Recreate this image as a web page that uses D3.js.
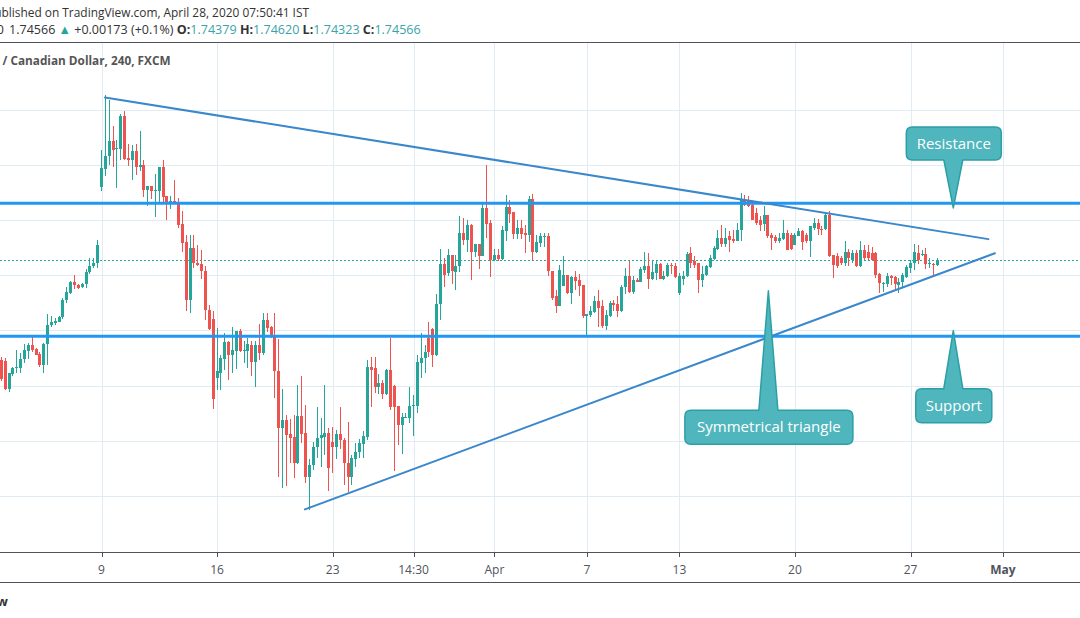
<!DOCTYPE html>
<html><head><meta charset="utf-8">
<script src="https://cdn.jsdelivr.net/npm/d3@7"></script>
<style>html,body{margin:0;padding:0;background:#fff;overflow:hidden}svg{display:block}</style>
</head><body><svg id="c" width="1080" height="618"></svg>
<script>
// ---------- DATA (GBP/CAD, 240 min, FXCM) ----------
const firstBar = -26; // bar index of the first visible candle (bar 0 = Mar 9 00:00)
const opens = [
1.7093,1.7090,1.6988,1.7043,1.7062,1.7065,1.7096,1.7127,1.7147,1.7132,
1.7115,1.7075,1.7149,1.7220,1.7228,1.7232,1.7248,1.7311,1.7335,1.7376,
1.7365,1.7357,1.7367,1.7410,1.7432,1.7445,
1.7719,1.7785,1.7831,1.7888,1.7857,1.7859,1.7979,1.7826,1.7819,1.7852,
1.7791,1.7801,1.7710,1.7725,1.7708,1.7707,1.7791,1.7686,1.7662,1.7668,
1.7664,1.7587,1.7522,1.7311,1.7500,1.7445,1.7442,1.7416,1.7275,1.7242,
1.7028,1.7047,1.7097,1.7159,1.7109,1.7127,1.7198,1.7128,1.7127,1.7148,
1.7087,1.7148,1.7118,1.7238,1.7213,1.7184,1.7053,1.6847,1.6875,1.6825,
1.6815,1.6720,1.6890,1.6828,1.6670,1.6712,1.6778,1.6809,1.6815,1.6829,
1.6797,1.6778,1.6825,1.6803,1.6720,1.6670,1.6734,1.6758,1.6788,1.6815,
1.7069,1.7063,1.6996,1.7011,1.6970,1.7057,1.6999,1.6926,1.6857,1.6882,
1.6882,1.6926,1.6926,1.7083,1.7100,1.7174,1.7206,1.7111,1.7294,1.7442,
1.7408,1.7474,1.7412,1.7432,1.7555,1.7529,1.7583,1.7486,1.7514,1.7471,
1.7644,1.7589,1.7454,1.7474,1.7459,1.7559,1.7648,1.7628,1.7551,1.7571,
1.7555,1.7547,1.7678,1.7483,1.7517,1.7541,1.7543,1.7417,1.7323,1.7290,
1.7362,1.7402,1.7335,1.7392,1.7384,1.7365,1.7254,1.7257,1.7265,1.7307,
1.7287,1.7217,1.7254,1.7299,1.7296,1.7269,1.7357,1.7398,1.7338,1.7384,
1.7377,1.7420,1.7432,1.7387,1.7408,1.7442,1.7387,1.7396,1.7438,1.7432,
1.7335,1.7387,1.7398,1.7481,1.7450,1.7444,1.7381,1.7402,1.7430,1.7459,
1.7496,1.7535,1.7514,1.7541,1.7531,1.7526,1.7565,1.7674,1.7671,1.7656,
1.7626,1.7601,1.7587,1.7620,1.7547,1.7539,1.7523,1.7532,1.7553,1.7547,
1.7511,1.7544,1.7559,1.7547,1.7523,1.7571,1.7589,1.7568,1.7568,1.7620,
1.7474,1.7468,1.7462,1.7444,1.7483,1.7456,1.7481,1.7434,1.7490,1.7486,
1.7481,1.7481,1.7405,1.7369,1.7369,1.7398,1.7393,1.7365,1.7377,1.7393,
1.7426,1.7444,1.7481,1.7474,1.7478,1.7442,1.7442,1.74379];
const highs = [
1.7104,1.7100,1.7047,1.7069,1.7130,1.7118,1.7151,1.7156,1.7176,1.7137,
1.7120,1.7156,1.7260,1.7253,1.7245,1.7253,1.7317,1.7359,1.7380,1.7402,
1.7369,1.7372,1.7424,1.7462,1.7462,1.7529,
1.7853,1.8055,1.8037,1.7943,1.7892,1.7983,1.7997,1.7877,1.7874,1.7877,
1.7924,1.7819,1.7725,1.7725,1.7768,1.7791,1.7819,1.7686,1.7686,1.7744,
1.7681,1.7634,1.7547,1.7547,1.7547,1.7511,1.7493,1.7432,1.7293,1.7271,
1.7209,1.7111,1.7191,1.7160,1.7213,1.7198,1.7205,1.7160,1.7173,1.7160,
1.7160,1.7224,1.7264,1.7264,1.7217,1.7264,1.7169,1.6988,1.6894,1.6879,
1.6894,1.7002,1.7035,1.6930,1.6734,1.6797,1.6923,1.6883,1.7002,1.6846,
1.6851,1.6839,1.6924,1.6809,1.6869,1.6748,1.6792,1.6806,1.6836,1.7093,
1.7104,1.7104,1.7042,1.7021,1.7061,1.7174,1.7002,1.6926,1.6902,1.6902,
1.6995,1.6966,1.7111,1.7191,1.7148,1.7231,1.7209,1.7333,1.7496,1.7463,
1.7496,1.7474,1.7474,1.7616,1.7609,1.7599,1.7587,1.7514,1.7514,1.7663,
1.7801,1.7601,1.7496,1.7496,1.7577,1.7692,1.7674,1.7628,1.7601,1.7601,
1.7583,1.7686,1.7696,1.7547,1.7555,1.7553,1.7553,1.7417,1.7347,1.7438,
1.7471,1.7402,1.7396,1.7414,1.7405,1.7365,1.7260,1.7289,1.7326,1.7345,
1.7311,1.7275,1.7307,1.7311,1.7323,1.7365,1.7426,1.7450,1.7398,1.7390,
1.7430,1.7484,1.7481,1.7450,1.7454,1.7444,1.7414,1.7446,1.7444,1.7444,
1.7409,1.7414,1.7486,1.7503,1.7471,1.7444,1.7434,1.7438,1.7474,1.7507,
1.7565,1.7583,1.7571,1.7559,1.7565,1.7589,1.7698,1.7692,1.7686,1.7668,
1.7644,1.7616,1.7652,1.7620,1.7553,1.7547,1.7553,1.7599,1.7565,1.7555,
1.7553,1.7571,1.7565,1.7553,1.7577,1.7608,1.7604,1.7577,1.7628,1.7632,
1.7474,1.7481,1.7468,1.7523,1.7495,1.7493,1.7490,1.7523,1.7511,1.7511,
1.7504,1.7483,1.7408,1.7377,1.7408,1.7402,1.7398,1.7390,1.7408,1.7438,
1.7456,1.7514,1.7511,1.7493,1.7499,1.7462,1.7444,1.74620];
const lows = [
1.7017,1.6984,1.6975,1.7033,1.7047,1.7045,1.7083,1.7098,1.7123,1.7110,
1.7069,1.7047,1.7075,1.7214,1.7218,1.7230,1.7242,1.7301,1.7333,1.7350,
1.7350,1.7353,1.7355,1.7406,1.7428,1.7428,
1.7704,1.7759,1.7801,1.7791,1.7715,1.7819,1.7819,1.7797,1.7747,1.7765,
1.7777,1.7685,1.7650,1.7678,1.7612,1.7663,1.7663,1.7601,1.7641,1.7659,
1.7572,1.7485,1.7269,1.7264,1.7427,1.7432,1.7387,1.7238,1.7202,1.6916,
1.6984,1.6984,1.7057,1.7021,1.7047,1.7061,1.7121,1.7082,1.7064,1.7033,
1.6996,1.7093,1.7111,1.7195,1.7173,1.6955,1.6670,1.6629,1.6637,1.6719,
1.6665,1.6716,1.6792,1.6648,1.6549,1.6694,1.6737,1.6706,1.6748,1.6619,
1.6683,1.6734,1.6770,1.6639,1.6615,1.6639,1.6706,1.6736,1.6736,1.6803,
1.6923,1.6973,1.6970,1.6952,1.6966,1.6912,1.6691,1.6785,1.6752,1.6882,
1.6866,1.6817,1.6901,1.7028,1.7046,1.7103,1.7069,1.7108,1.7236,1.7359,
1.7398,1.7369,1.7347,1.7412,1.7511,1.7486,1.7384,1.7466,1.7424,1.7468,
1.7535,1.7393,1.7450,1.7450,1.7454,1.7526,1.7589,1.7531,1.7531,1.7531,
1.7481,1.7519,1.7450,1.7481,1.7504,1.7504,1.7398,1.7311,1.7263,1.7290,
1.7362,1.7333,1.7296,1.7347,1.7323,1.7246,1.7178,1.7250,1.7263,1.7214,
1.7208,1.7202,1.7250,1.7269,1.7250,1.7265,1.7333,1.7335,1.7333,1.7374,
1.7374,1.7408,1.7350,1.7384,1.7384,1.7386,1.7384,1.7393,1.7405,1.7390,
1.7329,1.7365,1.7395,1.7427,1.7426,1.7335,1.7357,1.7396,1.7427,1.7456,
1.7493,1.7504,1.7504,1.7486,1.7517,1.7523,1.7523,1.7650,1.7648,1.7599,
1.7583,1.7559,1.7559,1.7535,1.7490,1.7517,1.7517,1.7529,1.7490,1.7493,
1.7508,1.7541,1.7490,1.7517,1.7466,1.7565,1.7547,1.7547,1.7565,1.7466,
1.7390,1.7426,1.7438,1.7434,1.7434,1.7444,1.7430,1.7430,1.7456,1.7456,
1.7450,1.7390,1.7335,1.7341,1.7359,1.7365,1.7347,1.7335,1.7353,1.7390,
1.7408,1.7420,1.7442,1.7468,1.7422,1.7426,1.7398,1.74323];
const closes = [
1.7024,1.6988,1.7046,1.7063,1.7068,1.7096,1.7130,1.7147,1.7130,1.7112,
1.7075,1.7151,1.7220,1.7230,1.7235,1.7249,1.7311,1.7338,1.7376,1.7363,
1.7355,1.7369,1.7412,1.7432,1.7445,1.7511,
1.7789,1.7834,1.7888,1.7856,1.7863,1.7979,1.7823,1.7819,1.7852,1.7791,
1.7801,1.7710,1.7725,1.7707,1.7710,1.7791,1.7682,1.7659,1.7668,1.7659,
1.7583,1.7518,1.7311,1.7500,1.7444,1.7438,1.7414,1.7275,1.7206,1.6953,
1.7051,1.7100,1.7159,1.7109,1.7130,1.7198,1.7126,1.7130,1.7151,1.7087,
1.7148,1.7119,1.7238,1.7209,1.7180,1.7051,1.6847,1.6875,1.6821,1.6811,
1.6720,1.6890,1.6825,1.6670,1.6712,1.6778,1.6811,1.6821,1.6829,1.6700,
1.6778,1.6825,1.6803,1.6718,1.6670,1.6736,1.6760,1.6791,1.6817,1.7069,
1.7057,1.6996,1.7009,1.6970,1.7057,1.6924,1.6924,1.6857,1.6885,1.6885,
1.6926,1.6930,1.7087,1.7100,1.7122,1.7121,1.7111,1.7296,1.7442,1.7402,
1.7474,1.7414,1.7434,1.7555,1.7529,1.7583,1.7486,1.7514,1.7471,1.7644,
1.7587,1.7454,1.7474,1.7459,1.7563,1.7648,1.7623,1.7551,1.7571,1.7551,
1.7547,1.7678,1.7483,1.7519,1.7543,1.7543,1.7414,1.7317,1.7290,1.7420,
1.7402,1.7335,1.7392,1.7380,1.7362,1.7254,1.7260,1.7269,1.7307,1.7283,
1.7217,1.7257,1.7299,1.7293,1.7269,1.7357,1.7398,1.7338,1.7384,1.7376,
1.7424,1.7432,1.7387,1.7410,1.7442,1.7387,1.7398,1.7438,1.7432,1.7392,
1.7398,1.7396,1.7478,1.7446,1.7438,1.7381,1.7405,1.7432,1.7462,1.7499,
1.7535,1.7514,1.7535,1.7529,1.7523,1.7565,1.7674,1.7656,1.7652,1.7601,
1.7589,1.7583,1.7620,1.7541,1.7535,1.7523,1.7535,1.7555,1.7493,1.7495,
1.7547,1.7559,1.7519,1.7523,1.7577,1.7589,1.7568,1.7565,1.7620,1.7468,
1.7438,1.7434,1.7444,1.7483,1.7462,1.7481,1.7434,1.7490,1.7462,1.7462,
1.7456,1.7402,1.7372,1.7372,1.7398,1.7390,1.7369,1.7377,1.7402,1.7430,
1.7446,1.7483,1.7456,1.7478,1.7442,1.7444,1.7438,1.74566];

const tickBars   = [0, 30, 60, 81, 102, 126, 150, 180, 210, 234];
const tickLabels = ["9", "16", "23", "14:30", "Apr", "7", "13", "20", "27", "May"];
const tickBold   = [false,false,false,false,false,false,false,false,false,true];
const priceGrid  = [1.66, 1.68, 1.70, 1.72, 1.74, 1.76, 1.78, 1.80];

const lastPrice = 1.74566;
const resistanceLevel = 1.7661;
const supportLevel = 1.7179;
const upperTrendBars = [0.91, 230.2], upperTrendPrices = [1.8045, 1.7531];
const lowerTrendBars = [52.8, 231.9], lowerTrendPrices = [1.6551, 1.7480];

const calloutTexts  = ["Resistance", "Support", "Symmetrical triangle"];
const calloutBars   = [221.1, 221.1, 173.1];
const calloutPrices = [1.7644, 1.7199, 1.7344];

const headerLine1 = "Published on TradingView.com, April 28, 2020 07:50:41 IST";
const symbolShort = "GBPCAD, 240";
const chartTitleStart = "British Pound ";
const chartTitleEnd = "/ Canadian Dollar, 240, FXCM";
const ohlcLabels = ["O:", "H:", "L:", "C:"];
const ohlcValues = ["1.74379", "1.74620", "1.74323", "1.74566"];
const changeText = "+0.00173 (+0.1%)";

// ---------- LAYOUT ----------
const W = 1080, H = 618;
const plotTop = 43, plotBottom = 552;
const UP = "#26a69a", DOWN = "#ef5350", GRID = "#e1ebf2";
const svg = d3.select("#c");

const x = d3.scaleLinear().domain([0, 234]).range([101.5, 1003]);
const y = d3.scaleLinear().domain([1.64, 1.84]).range([551, -0.5]);

svg.append("defs").append("clipPath").attr("id", "plot")
  .append("rect").attr("x", 0).attr("y", plotTop).attr("width", W).attr("height", plotBottom - plotTop);

const half = v => Math.round(v) + 0.5;

// grid
const grid = svg.append("g").attr("clip-path", "url(#plot)");
grid.selectAll("line.h").data(priceGrid).join("line")
  .attr("x1", 0).attr("x2", W)
  .attr("y1", d => half(y(d))).attr("y2", d => half(y(d)))
  .attr("stroke", GRID).attr("stroke-width", 1);
grid.selectAll("line.v").data(tickBars).join("line")
  .attr("y1", plotTop).attr("y2", plotBottom)
  .attr("x1", d => half(x(d))).attr("x2", d => half(x(d)))
  .attr("stroke", GRID).attr("stroke-width", 1);

const plot = svg.append("g").attr("clip-path", "url(#plot)");

// last price dotted line
plot.append("line").attr("x1", 0).attr("x2", W)
  .attr("y1", half(y(lastPrice))).attr("y2", half(y(lastPrice)))
  .attr("stroke", UP).attr("stroke-width", 1).attr("stroke-dasharray", "2 2");

// candles
const bars = opens.map((o, i) => ({bar: firstBar + i, o, h: highs[i], l: lows[i], c: closes[i]}));
const cg = plot.append("g").attr("shape-rendering", "crispEdges");
cg.selectAll("line.wick").data(bars).join("line")
  .attr("x1", d => Math.floor(x(d.bar)) + 0.5).attr("x2", d => Math.floor(x(d.bar)) + 0.5)
  .attr("y1", d => y(d.h)).attr("y2", d => y(d.l))
  .attr("stroke", d => d.c >= d.o ? UP : DOWN).attr("stroke-width", 1);
cg.selectAll("rect.body").data(bars).join("rect")
  .attr("x", d => Math.floor(x(d.bar)) - 1).attr("width", 3)
  .attr("y", d => y(Math.max(d.o, d.c)))
  .attr("height", d => Math.max(1, Math.abs(y(d.o) - y(d.c))))
  .attr("fill", d => d.c >= d.o ? UP : DOWN);

// horizontal support / resistance
plot.selectAll("line.sr").data([resistanceLevel, supportLevel]).join("line")
  .attr("x1", 0).attr("x2", W).attr("y1", d => y(d)).attr("y2", d => y(d))
  .attr("stroke", "#2196f3").attr("stroke-width", 3);

// trend lines
const trend = [[upperTrendBars, upperTrendPrices], [lowerTrendBars, lowerTrendPrices]];
plot.selectAll("line.tr").data(trend).join("line")
  .attr("x1", d => x(d[0][0])).attr("y1", d => y(d[1][0]))
  .attr("x2", d => x(d[0][1])).attr("y2", d => y(d[1][1]))
  .attr("stroke", "#3a87cb").attr("stroke-width", 2).attr("stroke-linecap", "round");

// callouts
const calloutLayout = [
  {dx: 0.5, dy: -64.5, w: 95, h: 33, side: "bottom"},
  {dx: 0.5, dy: 75, w: 76, h: 34, side: "top"},
  {dx: 0.5, dy: 136.5, w: 168, h: 34, side: "top"}
];
function calloutPath(x0, y0, x1, y1, r, side, bx, hw, tx, ty) {
  let p = `M${x0 + r},${y0}`;
  if (side === "top") p += `L${bx - hw},${y0}L${tx},${ty}L${bx + hw},${y0}`;
  p += `L${x1 - r},${y0}Q${x1},${y0} ${x1},${y0 + r}L${x1},${y1 - r}Q${x1},${y1} ${x1 - r},${y1}`;
  if (side === "bottom") p += `L${bx + hw},${y1}L${tx},${ty}L${bx - hw},${y1}`;
  p += `L${x0 + r},${y1}Q${x0},${y1} ${x0},${y1 - r}L${x0},${y0 + r}Q${x0},${y0} ${x0 + r},${y0}Z`;
  return p;
}
const cl = svg.append("g");
calloutTexts.forEach((t, i) => {
  const L = calloutLayout[i];
  const tx = x(calloutBars[i]), ty = y(calloutPrices[i]);
  const cx = tx + L.dx, cy = ty + L.dy;
  const x0 = cx - L.w / 2, x1 = cx + L.w / 2, y0 = cy - L.h / 2, y1 = cy + L.h / 2;
  cl.append("path").attr("d", calloutPath(x0, y0, x1, y1, 6, L.side, tx, 9.5, tx, ty))
    .attr("fill", "#4fb6bd").attr("stroke", "#2b9fa7").attr("stroke-width", 1.5)
    .attr("stroke-linejoin", "round");
  cl.append("text").attr("x", cx).attr("y", cy + 5.3).attr("text-anchor", "middle")
    .attr("font-family", "'Open Sans', sans-serif").attr("font-size", 15)
    .attr("fill", "#ffffff").text(t);
});

// x axis
const ax = svg.append("g");
ax.append("line").attr("x1", 0).attr("x2", W).attr("y1", 552.5).attr("y2", 552.5).attr("stroke", "#50535e");
ax.append("line").attr("x1", 0).attr("x2", W).attr("y1", 582.5).attr("y2", 582.5).attr("stroke", "#50535e");
ax.selectAll("line.t").data(tickBars).join("line")
  .attr("x1", d => half(x(d))).attr("x2", d => half(x(d)))
  .attr("y1", 552.5).attr("y2", 557).attr("stroke", "#50535e");
ax.selectAll("text").data(tickBars).join("text")
  .attr("x", d => x(d)).attr("y", 573.5).attr("text-anchor", "middle")
  .attr("font-family", "'Open Sans', sans-serif").attr("font-size", 12)
  .attr("font-weight", (d, i) => tickBold[i] ? "bold" : "normal")
  .attr("fill", "#50535e").text((d, i) => tickLabels[i]);

// header
svg.append("line").attr("x1", 0).attr("x2", W).attr("y1", 42.5).attr("y2", 42.5).attr("stroke", "#50535e");
const hf = "'Open Sans', sans-serif";
svg.append("text").attr("x", -13).attr("y", 16.7).attr("font-family", hf).attr("font-size", 13)
  .attr("fill", "#333").attr("textLength", 322).attr("lengthAdjust", "spacingAndGlyphs").text(headerLine1);
svg.append("text").attr("x", 4).attr("y", 34.3).attr("text-anchor", "end").attr("font-family", hf)
  .attr("font-size", 13).attr("fill", "#333").text(symbolShort);
const l2 = svg.append("text").attr("x", 9).attr("y", 34.3).attr("font-family", hf).attr("font-size", 13)
  .attr("fill", "#333").attr("textLength", 411.7).attr("lengthAdjust", "spacingAndGlyphs");
l2.append("tspan").text(ohlcValues[3] + " ");
l2.append("tspan").attr("fill", UP).text("▲");
l2.append("tspan").text(" " + changeText + " ");
ohlcLabels.forEach((lab, i) => {
  l2.append("tspan").attr("font-weight", "bold").attr("fill", "#333").text((i ? " " : "") + lab);
  l2.append("tspan").attr("fill", "#3aa3a8").text(ohlcValues[i]);
});
svg.append("text").attr("x", 0).attr("y", 65).attr("text-anchor", "end").attr("font-family", hf)
  .attr("font-size", 13).attr("font-weight", "bold").attr("fill", "#555").text(chartTitleStart);
svg.append("text").attr("x", 2.5).attr("y", 65).attr("font-family", hf).attr("font-size", 13)
  .attr("font-weight", "bold").attr("fill", "#555").attr("textLength", 168).attr("lengthAdjust", "spacingAndGlyphs")
  .text(chartTitleEnd);
svg.append("text").attr("x", 8).attr("y", 605.5).attr("text-anchor", "end").attr("font-family", hf)
  .attr("font-size", 13).attr("font-weight", "bold").attr("fill", "#333").text("TradingView");
</script></body></html>
